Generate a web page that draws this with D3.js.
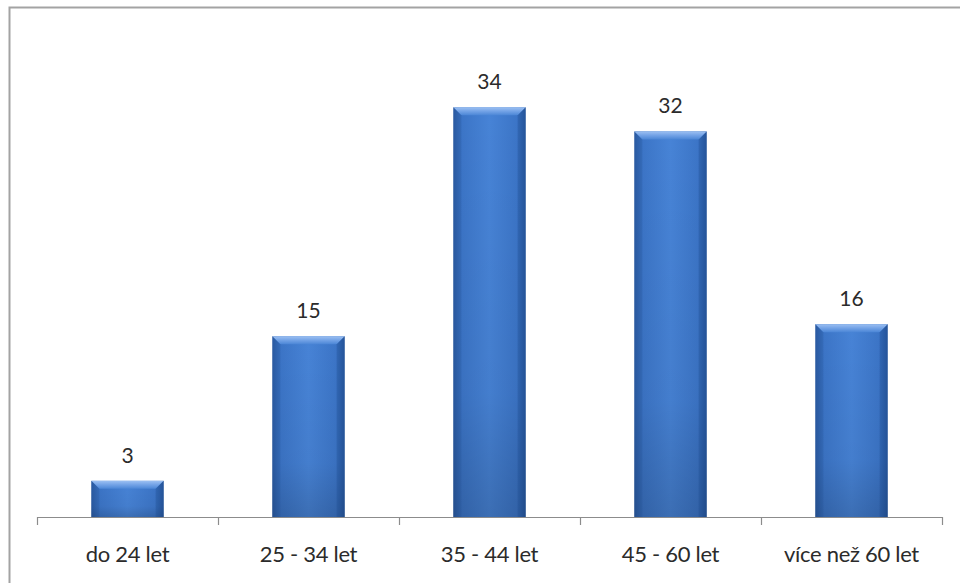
<!DOCTYPE html>
<html>
<head>
<meta charset="utf-8">
<script src="https://cdn.jsdelivr.net/npm/d3@7"></script>
<style>
  html, body { margin: 0; padding: 0; background: #fff; }
  svg { display: block; }
</style>
</head>
<body>
<script>
// Age groups and respondent counts
const categories = ["do 24 let", "25 - 34 let", "35 - 44 let", "45 - 60 let", "více než 60 let"];
const values = [3, 15, 34, 32, 16];

const W = 960, H = 583;
const plot = { left: 37, right: 942, top: 35, bottom: 517 };

const svg = d3.select("body").append("svg")
  .attr("width", W).attr("height", H);

const defs = svg.append("defs");

// horizontal shading: darker edges, lighter middle
const gx = defs.append("linearGradient").attr("id", "barX")
  .attr("x1", "0").attr("x2", "1").attr("y1", "0").attr("y2", "0");
[[0, "#2d5ea8"], [0.1, "#3b74c6"], [0.5, "#4783d6"], [0.9, "#3b74c6"], [1, "#2a5aa2"]]
  .forEach(([o, c]) => gx.append("stop").attr("offset", o).attr("stop-color", c));

// vertical shading toward the base
const gy = defs.append("linearGradient").attr("id", "barY")
  .attr("x1", "0").attr("x2", "0").attr("y1", "0").attr("y2", "1");
[[0, "#000", 0], [0.7, "#000", 0.04], [1, "#000", 0.16]]
  .forEach(([o, c, a]) => gy.append("stop").attr("offset", o).attr("stop-color", c).attr("stop-opacity", a));

// bevel highlight on the top edge
const gt = defs.append("linearGradient").attr("id", "barTop")
  .attr("x1", "0").attr("x2", "0").attr("y1", "0").attr("y2", "1");
[[0, "#9cc0f2"], [0.5, "#72a2e6"], [1, "#4b86d6"]]
  .forEach(([o, c]) => gt.append("stop").attr("offset", o).attr("stop-color", c));

// chart frame
svg.append("rect")
  .attr("x", 9.5).attr("y", 7.5)
  .attr("width", W).attr("height", H)
  .attr("fill", "none").attr("stroke", "#a3a3a3").attr("stroke-width", 2);

const x = d3.scaleBand().domain(categories)
  .range([plot.left, plot.right]).paddingInner(0.6).paddingOuter(0.3);
const y = d3.scaleLinear().domain([0, 40]).range([plot.bottom, plot.top]);

const bars = svg.append("g").selectAll("g").data(values).join("g")
  .attr("transform", (d, i) => `translate(${x(categories[i])},${y(d)})`);

const bw = x.bandwidth();
const bev = 8;

bars.append("rect")
  .attr("width", bw).attr("height", d => plot.bottom - y(d))
  .attr("fill", "url(#barX)");
bars.append("rect")
  .attr("width", bw).attr("height", d => plot.bottom - y(d))
  .attr("fill", "url(#barY)");
// top bevel trapezoid
bars.append("path")
  .attr("d", `M0,0 L${bw},0 L${bw - bev},${bev} L${bev},${bev} Z`)
  .attr("fill", "url(#barTop)");
// side bevels
bars.append("path")
  .attr("d", d => `M0,0 L${bev},${bev} L${bev},${plot.bottom - y(d)} L0,${plot.bottom - y(d)} Z`)
  .attr("fill", "#1e4a8c").attr("opacity", 0.25);
bars.append("path")
  .attr("d", d => `M${bw},0 L${bw - bev},${bev} L${bw - bev},${plot.bottom - y(d)} L${bw},${plot.bottom - y(d)} Z`)
  .attr("fill", "#1e4a8c").attr("opacity", 0.35);

// value labels
svg.append("g").selectAll("text").data(values).join("text")
  .attr("x", (d, i) => x(categories[i]) + bw / 2)
  .attr("y", d => y(d) - 18)
  .attr("text-anchor", "middle")
  .attr("font-family", "Lato, 'Open Sans', sans-serif")
  .attr("font-size", 21)
  .attr("fill", "#2b2b2b")
  .text(d => d);

// category axis with ticks between groups
const axisX = d3.scaleLinear().domain([0, categories.length]).range([plot.left, plot.right]);
const ax = svg.append("g").attr("transform", `translate(0,${plot.bottom})`);
ax.append("line")
  .attr("x1", plot.left).attr("x2", plot.right)
  .attr("y1", 0.5).attr("y2", 0.5)
  .attr("stroke", "#8c8c8c").attr("stroke-width", 1.2);
ax.selectAll("line.tick").data(d3.range(categories.length + 1)).join("line")
  .attr("class", "tick")
  .attr("x1", d => Math.round(axisX(d)) + 0.5).attr("x2", d => Math.round(axisX(d)) + 0.5)
  .attr("y1", 0).attr("y2", 8)
  .attr("stroke", "#8c8c8c").attr("stroke-width", 1.2);
ax.selectAll("text").data(categories).join("text")
  .attr("x", d => x(d) + bw / 2)
  .attr("y", 45)
  .attr("text-anchor", "middle")
  .attr("font-family", "Lato, 'Open Sans', sans-serif")
  .attr("font-size", 22)
  .attr("letter-spacing", -0.3)
  .attr("fill", "#2b2b2b")
  .text(d => d);
</script>
</body>
</html>
